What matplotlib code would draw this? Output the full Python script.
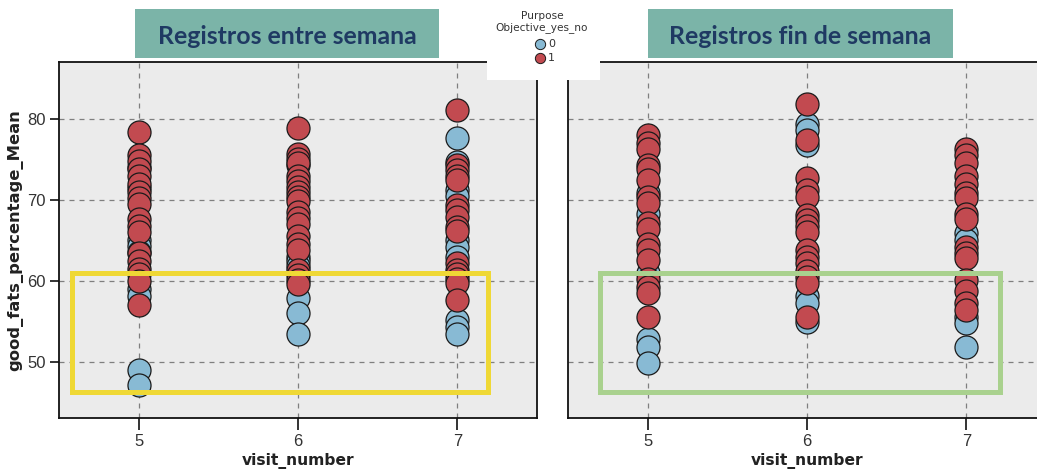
import matplotlib
matplotlib.use("Agg")
import matplotlib.pyplot as plt
from matplotlib.patches import Rectangle

# ---- data: good_fats_percentage_Mean by visit_number, split by objective flag ----
visits = [5, 6, 7]
x_ticks = ["5", "6", "7"]
y_ticks = [50, 60, 70, 80]

# weekday records
weekday_no = {
    5: [74.0, 71.5, 65.0, 64.3, 63.6, 59.0, 58.2, 49.0, 47.2],
    6: [74.3, 63.0, 62.4, 61.8, 57.9, 56.0, 53.4],
    7: [77.6, 74.7, 71.2, 70.5, 65.0, 64.2, 63.0, 55.2, 54.3, 53.4],
}
weekday_yes = {
    5: [78.4, 75.5, 74.8, 73.8, 73.0, 72.0, 71.0, 70.2, 69.5, 67.6, 66.8, 66.0,
        63.4, 62.5, 61.5, 60.8, 60.0, 57.0],
    6: [78.8, 75.7, 75.0, 74.5, 72.9, 72.3, 71.6, 71.0, 70.4, 69.8, 68.5, 67.8,
        67.0, 65.5, 64.6, 63.8, 61.4, 60.7, 60.1, 59.6],
    7: [81.1, 74.3, 73.7, 73.0, 72.4, 69.4, 68.8, 67.9, 66.7, 66.2, 62.2, 61.4,
        60.8, 60.3, 59.7, 57.7],
}

# weekend records
weekend_no = {
    5: [70.8, 68.3, 61.0, 52.9, 51.9, 49.9],
    6: [79.4, 78.6, 76.8, 58.1, 57.3, 54.9],
    7: [65.9, 65.0, 55.6, 54.8, 51.9],
}
weekend_yes = {
    5: [78.0, 77.0, 76.3, 74.3, 73.8, 72.4, 70.4, 69.6, 67.1, 66.4, 64.6, 63.8,
        62.6, 60.3, 59.3, 58.5, 55.6],
    6: [81.8, 77.4, 72.7, 71.2, 70.4, 68.1, 67.5, 66.8, 66.0, 63.8, 63.0, 62.2,
        61.2, 60.5, 59.8, 55.6],
    7: [76.3, 75.5, 74.5, 72.9, 72.0, 70.8, 70.2, 68.3, 67.6, 64.2, 63.4, 62.8,
        60.1, 58.7, 57.3, 56.4],
}

panel_titles = ["Registros entre semana", "Registros fin de semana"]
legend_title = ["Purpose", "Objective_yes_no"]
legend_labels = ["0", "1"]
x_label = "visit_number"
y_label = "good_fats_percentage_Mean"

# ---- style ----
W, H = 1037, 474
DPI = 100
BLUE = "#88bad4"
RED = "#c24a50"
BG = "#ebebeb"
TEAL = "#7bb4a8"
NAVY = "#1f3a63"
TXT = "#333333"


def fx(px):
    return px / W


def fy(py):
    return 1 - py / H


fig = plt.figure(figsize=(W / DPI, H / DPI), dpi=DPI)
fig.patch.set_facecolor("white")

ax_w = 478 / W
ax_h = 356 / H
ax_b = fy(418)
ax1 = fig.add_axes([fx(59), ax_b, ax_w, ax_h])
ax2 = fig.add_axes([fx(568), ax_b, ax_w, ax_h])

marker_s = 275


def draw_panel(ax, no, yes, show_y):
    ax.set_facecolor(BG)
    ax.set_xlim(4.5, 7.5)
    ax.set_ylim(43.1, 87.0)
    ax.set_xticks(visits)
    ax.set_xticklabels(x_ticks)
    ax.set_yticks(y_ticks)
    ax.grid(True, color="#7f7f7f", linestyle=(0, (4, 4)), linewidth=0.9)
    ax.set_axisbelow(True)
    for v in visits:
        ax.scatter([v] * len(no[v]), no[v], s=marker_s, c=BLUE,
                   edgecolors="#1a1a1a", linewidths=0.9, zorder=3)
    for v in visits:
        ax.scatter([v] * len(yes[v]), yes[v], s=marker_s, c=RED,
                   edgecolors="#1a1a1a", linewidths=0.9, zorder=4)
    for sp in ax.spines.values():
        sp.set_color("#111111")
        sp.set_linewidth(1.3)
    ax.tick_params(axis="x", length=8.5, width=1.2, color="#111111",
                   labelsize=12, labelcolor=TXT, pad=3)
    if show_y:
        ax.tick_params(axis="y", length=6.5, width=1.2, color="#111111",
                       labelsize=12, labelcolor=TXT, pad=3)
    else:
        ax.tick_params(axis="y", length=0, labelleft=False)
    for lab in ax.get_xticklabels() + ax.get_yticklabels():
        lab.set_family("Liberation Sans")
    ax.set_xlabel(x_label, fontsize=11.2, fontweight="bold",
                  color="#222222", labelpad=3)


draw_panel(ax1, weekday_no, weekday_yes, True)
draw_panel(ax2, weekend_no, weekend_yes, False)
ax1.set_ylabel(y_label, fontsize=11.8, fontweight="bold", color="#222222",
               labelpad=3)

# highlighted ranges
ax1.add_patch(Rectangle((4.58, 46.3), 7.19 - 4.58, 61.0 - 46.3, fill=False,
                        edgecolor="#efd835", linewidth=3.6, zorder=6,
                        clip_on=False))
ax2.add_patch(Rectangle((4.70, 46.3), 7.21 - 4.70, 61.0 - 46.3, fill=False,
                        edgecolor="#a9d18e", linewidth=3.6, zorder=6,
                        clip_on=False))

# title boxes
for (x0, x1), title in zip([(135, 439), (648, 953)], panel_titles):
    fig.add_artist(Rectangle((fx(x0), fy(58)), fx(x1 - x0), 49 / H,
                             transform=fig.transFigure, facecolor=TEAL,
                             edgecolor="none", zorder=5))
    fig.text(fx((x0 + x1) / 2), fy(36), title, ha="center", va="center",
             fontsize=17.9, fontweight="bold", family="Lato", color=NAVY,
             zorder=6)

# legend block
fig.add_artist(Rectangle((fx(487), fy(80)), fx(113), 80 / H,
                         transform=fig.transFigure, facecolor="white",
                         edgecolor="none", zorder=5))
fig.text(fx(542), fy(16), legend_title[0], ha="center", va="center",
         fontsize=7.6, color=TXT, zorder=6)
fig.text(fx(542), fy(28), legend_title[1], ha="center", va="center",
         fontsize=7.6, color=TXT, zorder=6)
for py, col, lab in zip([44, 58], [BLUE, RED], legend_labels):
    fig.add_artist(plt.Line2D([fx(540)], [fy(py)], marker="o", markersize=7.4,
                              markerfacecolor=col, markeredgecolor="#1a1a1a",
                              markeredgewidth=0.7, linestyle="none",
                              transform=fig.transFigure, zorder=6))
    fig.text(fx(548), fy(py), lab, ha="left", va="center", fontsize=8,
             color=TXT, zorder=6)

fig.savefig("out.png", dpi=DPI)
